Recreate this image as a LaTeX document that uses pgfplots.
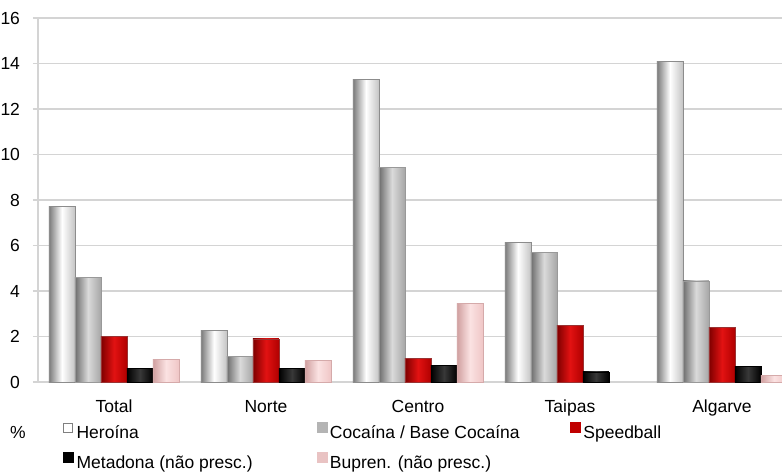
\documentclass[border=0pt]{standalone}
\usepackage{pgfplots}
\pgfplotsset{compat=1.18}
\usepackage{fontspec}
\setmainfont{Liberation Sans}
\definecolor{gridc}{HTML}{D4D4D4}
\definecolor{herL}{HTML}{7A7A7A}
\definecolor{herR}{HTML}{C4C4C4}
\definecolor{cocL}{HTML}{6E6E6E}
\definecolor{cocM}{HTML}{DADADA}
\definecolor{cocR}{HTML}{A6A6A6}
\definecolor{cocF}{HTML}{B4B4B4}
\definecolor{spdL}{HTML}{7F0000}
\definecolor{spdM}{HTML}{E21212}
\definecolor{spdR}{HTML}{B00000}
\definecolor{spdF}{HTML}{C00000}
\definecolor{metM}{HTML}{383838}
\definecolor{bupL}{HTML}{D0A0A0}
\definecolor{bupM}{HTML}{FBE2E2}
\definecolor{bupR}{HTML}{EFC6C6}
\definecolor{bupF}{HTML}{E9C3C3}
\newcommand{\lf}{\fontsize{17.5pt}{21pt}\selectfont}
\pgfplotsset{
  her/.style={draw=gray!90, line width=0.7pt, left color=herL, right color=herR, middle color=white, bar shift=-52pt, forget plot},
  coc/.style={draw=gray!80, line width=0.5pt, left color=cocL, right color=cocR, middle color=cocM, bar shift=-26pt, forget plot},
  spd/.style={draw=spdL!80, line width=0.5pt, left color=spdL, right color=spdR, middle color=spdM, bar shift=0pt, forget plot},
  met/.style={draw=black, line width=0.5pt, left color=black, right color=black, middle color=metM, bar shift=26pt, forget plot},
  bup/.style={draw=bupL!90, line width=0.5pt, left color=bupL, right color=bupR, middle color=bupM, bar shift=52pt, forget plot},
}
\begin{document}
\lf
\begin{tikzpicture}
\useasboundingbox (0,0) rectangle (782pt,472pt);
\begin{axis}[
  at={(38pt,90pt)}, anchor=south west,
  scale only axis, width=744pt, height=364pt,
  ybar=0pt, bar width=26pt,
  xmin=-0.5, xmax=4.395, ymin=0, ymax=16,
  xtick={0,1,2,3,4}, xticklabels={Total,Norte,Centro,Taipas,Algarve},
  ytick={0,2,...,16},
  ymajorgrids, grid style={gridc, line width=1.3pt},
  axis x line*=bottom, axis y line*=left,
  axis line style={gridc, line width=1.3pt, -},
  major x tick style={draw=none},
  major y tick style={gridc, line width=1.3pt},
  tick align=outside, major tick length=5pt,
  /pgf/number format/assume math mode=true,
  tick label style={font=\lf},
  xticklabel style={yshift=-7pt},
  yticklabel style={xshift=-7pt},
  legend columns=3, legend cell align=left,
  legend style={at={(axis description cs:0.0336,-0.11)}, anchor=north west,
    draw=none, fill=none, inner sep=0pt, outer sep=0pt, row sep=10pt, font=\lf,
    nodes={inner sep=0pt, text height=13pt, text depth=4pt},
    /tikz/every odd column/.append style={column sep=3pt}},
]
% Heroina
\addplot[her] coordinates {(0,7.7)};
\addplot[her] coordinates {(1,2.28)};
\addplot[her] coordinates {(2,13.3)};
\addplot[her] coordinates {(3,6.15)};
\addplot[her] coordinates {(4,14.1)};
% Cocaina / Base Cocaina
\addplot[coc] coordinates {(0,4.6)};
\addplot[coc] coordinates {(1,1.14)};
\addplot[coc] coordinates {(2,9.43)};
\addplot[coc] coordinates {(3,5.7)};
\addplot[coc] coordinates {(4,4.45)};
% Speedball
\addplot[spd] coordinates {(0,2.0)};
\addplot[spd] coordinates {(1,1.9)};
\addplot[spd] coordinates {(2,1.04)};
\addplot[spd] coordinates {(3,2.5)};
\addplot[spd] coordinates {(4,2.4)};
% Metadona
\addplot[met] coordinates {(0,0.6)};
\addplot[met] coordinates {(1,0.59)};
\addplot[met] coordinates {(2,0.72)};
\addplot[met] coordinates {(3,0.45)};
\addplot[met] coordinates {(4,0.7)};
% Bupren.
\addplot[bup] coordinates {(0,1.0)};
\addplot[bup] coordinates {(1,0.94)};
\addplot[bup] coordinates {(2,3.47)};
\addplot[bup] coordinates {(4,0.3)};
% legend
\addlegendimage{legend image code/.code={\draw[draw=gray, fill=white, line width=0.8pt] (0pt,1.5pt) rectangle (9pt,10.5pt);}}
\addlegendentry{\makebox[240pt][l]{Heroína}}
\addlegendimage{legend image code/.code={\fill[cocF] (0pt,1.5pt) rectangle (10pt,11.5pt);}}
\addlegendentry{\makebox[240pt][l]{Cocaína / Base Cocaína}}
\addlegendimage{legend image code/.code={\fill[spdF] (0pt,1.5pt) rectangle (10pt,11.5pt);}}
\addlegendentry{Speedball}
\addlegendimage{legend image code/.code={\fill[black] (0pt,1.5pt) rectangle (10pt,11.5pt);}}
\addlegendentry{\makebox[240pt][l]{Metadona (não presc.)}}
\addlegendimage{legend image code/.code={\fill[bupF] (0pt,1.5pt) rectangle (10pt,11.5pt);}}
\addlegendentry{\makebox[240pt][l]{Bupren. (não presc.)}}
\end{axis}
\node at (18pt,40pt) {\%};
\end{tikzpicture}
\end{document}
